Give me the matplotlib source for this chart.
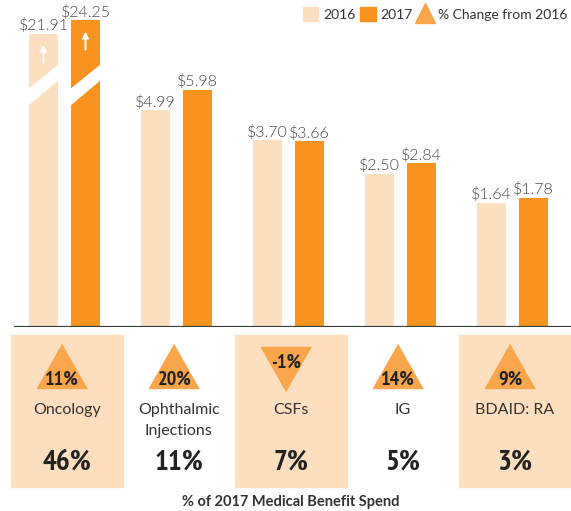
import numpy as np
import matplotlib
matplotlib.use("Agg")
import matplotlib.pyplot as plt
import matplotlib.transforms as mtransforms
from matplotlib import font_manager as fm
from matplotlib.patches import Patch, Rectangle, Polygon
from matplotlib.lines import Line2D

categories = ["Oncology", "Ophthalmic\nInjections", "CSFs", "IG", "BDAID: RA"]
spend_2016 = [21.91, 4.99, 3.70, 2.50, 1.64]
spend_2017 = [24.25, 5.98, 3.66, 2.84, 1.78]
pct_change = [11, 20, -1, 14, 9]
pct_of_spend = [46, 11, 7, 5, 3]

C16 = "#FDDFBF"
C17 = "#F7931E"
CTRI = "#F9A54B"
TXT = "#333333"

plt.rcParams['font.family'] = ['Lato', 'DejaVu Sans']


def narrow_bold():
    # look for a condensed bold face, else fall back to Roboto bold
    found = []
    for f in fm.fontManager.ttflist:
        nm = f.name.lower()
        cond = ('narrow' in nm or 'condensed' in nm or
                'condensed' in str(f.stretch) or
                (isinstance(f.stretch, (int, float)) and f.stretch < 100))
        w = f.weight if isinstance(f.weight, (int, float)) else (700 if 'bold' in str(f.weight) else 400)
        if cond and w >= 600 and 'italic' not in f.style and 'oblique' not in f.style:
            found.append(f)
    if found:
        found.sort(key=lambda f: (0 if 'narrow' in f.name.lower() else 1, f.name))
        return fm.FontProperties(fname=found[0].fname)
    return fm.FontProperties(family=['Roboto', 'DejaVu Sans'], weight='bold')


NARROW = narrow_bold()

# sqrt scale with a break for the two big oncology values
BREAK_LO = 7.0
BREAK_HI = 15.4
K_UP = 0.058


def fwd(v):
    v = np.asarray(v, dtype=float)
    return np.sqrt(np.clip(v, 0, BREAK_LO)) + K_UP * np.clip(v - BREAK_HI, 0, None)


def inv(u):
    u = np.asarray(u, dtype=float)
    sb = np.sqrt(BREAK_LO)
    return np.where(u <= sb, np.clip(u, 0, None) ** 2, BREAK_HI + (u - sb) / K_UP)


fig = plt.figure(figsize=(5.71, 5.11), dpi=100)
W, H = 571, 511
xlim = (-64.5 / 112, (W - 64.5) / 112)

ax = fig.add_axes([0, 184 / H, 1, 327 / H])
ax.set_yscale('function', functions=(fwd, inv))
ax.set_xlim(*xlim)
ax.set_ylim(0, inv(3.37))
ax.axis('off')

x = np.arange(len(categories))
off, bw = 0.1875, 0.263
b16 = ax.bar(x - off, spend_2016, width=bw, color=C16, zorder=2)
b17 = ax.bar(x + off, spend_2017, width=bw, color=C17, zorder=2)
ax.plot([-0.455, xlim[1]], [0, 0], color="#3a3a3a", lw=1.6, zorder=3,
        solid_capstyle='butt')

for bars, vals in ((b16, spend_2016), (b17, spend_2017)):
    for r, v in zip(bars, vals):
        ax.annotate(f"${v:.2f}", (r.get_x() + r.get_width() / 2, v),
                    xytext=(0, 0.5), textcoords='offset points',
                    ha='center', va='bottom', fontsize=11.5, fontweight=300,
                    color="#454545")

# break marks + arrows on bars that are cut
blend = mtransforms.blended_transform_factory(ax.transData, ax.transAxes)
for bars, vals in ((b16, spend_2016), (b17, spend_2017)):
    for r, v in zip(bars, vals):
        if v <= BREAK_LO:
            continue
        x0 = r.get_x() - 0.005
        x1 = r.get_x() + r.get_width() + 0.005
        ax.add_patch(Polygon([(x0, 0.679), (x1, 0.758), (x1, 0.801), (x0, 0.725)],
                             closed=True, color='white', transform=blend, zorder=4))
        xc = r.get_x() + r.get_width() / 2
        head = mtransforms.offset_copy(ax.transData, fig, y=-8, units='points')
        tail = mtransforms.offset_copy(ax.transData, fig, y=-21, units='points')
        ax.annotate('', xy=(xc, v), xycoords=head, xytext=(xc, v), textcoords=tail,
                    arrowprops=dict(arrowstyle='-|>', color='white', lw=1.4,
                                    mutation_scale=9, shrinkA=0, shrinkB=0),
                    zorder=5)

# legend
handles = [Patch(color=C16, label="2016"), Patch(color=C17, label="2017"),
           Line2D([], [], marker='^', markersize=15, color=CTRI, ls='None',
                  label="% Change from 2016")]
fig.legend(handles=handles, loc='upper right', bbox_to_anchor=(1.006, 1.0),
           ncol=3, frameon=False, fontsize=10, handlelength=1.15, handleheight=1.15,
           handletextpad=0.35, columnspacing=0.3, borderaxespad=0.1,
           labelcolor=TXT)

# bottom panel, y in pixels from the top
bx = fig.add_axes([0, 0, 1, 181 / H])
bx.set_xlim(*xlim)
bx.set_ylim(H, 330)
bx.axis('off')

up = [(0, 0.88), (-1, -0.88), (1, -0.88)]
down = [(0, -0.88), (-1, 0.88), (1, 0.88)]
for i, (cat, ch, share) in enumerate(zip(categories, pct_change, pct_of_spend)):
    if i % 2 == 0:
        bx.add_patch(Rectangle((i - 0.5 + 0.022, 335), 1.0, 152, color=C16, zorder=1))
    if ch >= 0:
        bx.plot(i - 0.02, 366, marker=up, markersize=36, color=CTRI, ls='None', zorder=2)
        ty = 385
    else:
        bx.plot(i - 0.02, 369, marker=down, markersize=36, color=CTRI, ls='None', zorder=2)
        ty = 368
    bx.text(i - 0.02, ty, f"{ch}%", ha='center', va='baseline', fontproperties=NARROW,
            fontsize=14.5, color="#222222", zorder=3)
    bx.text(i + 0.02, 403, cat, ha='center', va='top', fontsize=11.5,
            color=TXT, linespacing=1.6, zorder=3)
    bx.text(i + 0.02, 470, f"{share}%", ha='center', va='baseline', fontproperties=NARROW,
            fontsize=21, color="#222222", zorder=3)

fig.text(291 / W, 1 - 502 / H, "% of 2017 Medical Benefit Spend", ha='center',
         va='center', fontsize=10.5, fontweight='bold', color=TXT)

fig.savefig("out.png", dpi=100)
